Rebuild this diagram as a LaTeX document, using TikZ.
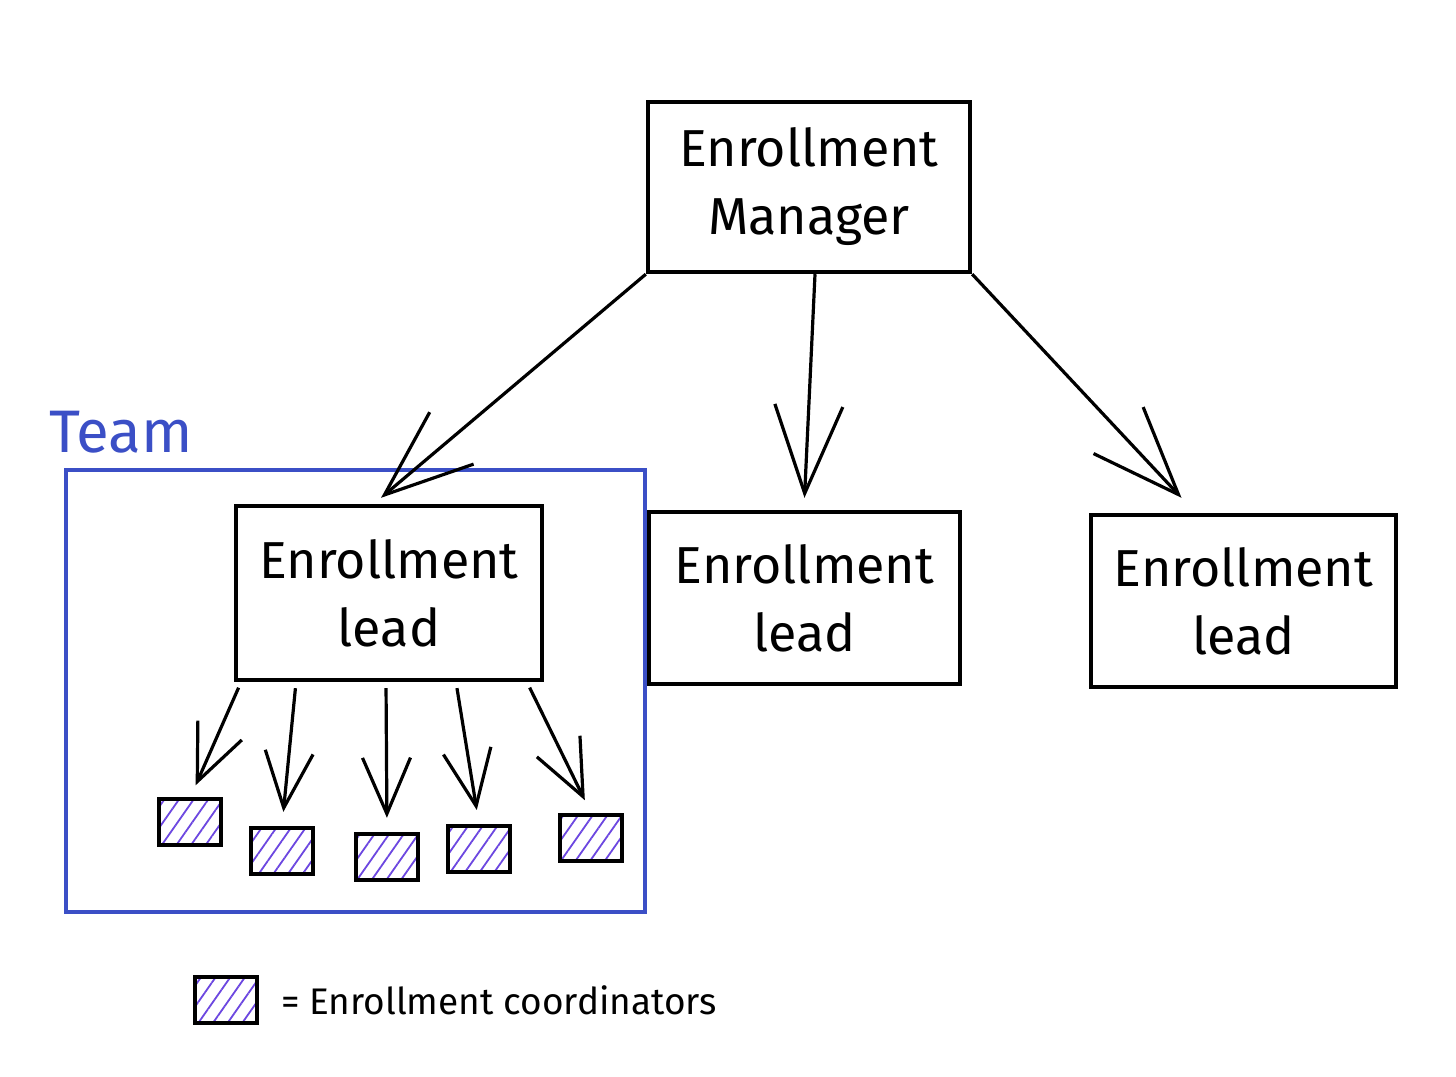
\documentclass[tikz,border=0pt]{standalone}
\usepackage{fontspec}
\setmainfont{Fira Sans}
\usetikzlibrary{calc,arrows.meta,patterns.meta}

\definecolor{teamblue}{HTML}{3B4FC6}
\definecolor{hatch}{HTML}{6C47E0}

\tikzset{
  rolebox/.style={draw, line width=2.2pt, align=center, minimum width=153pt, minimum height=87pt,
    font=\fontsize{26}{34}\selectfont},
  crdbox/.style={draw, line width=2.2pt, minimum width=31pt, minimum height=23pt,
    pattern={Lines[angle=55,distance=6pt,line width=0.9pt]}, pattern color=hatch},
  bigarrow/.style={line width=1.6pt, -{Straight Barb[length=44pt,width=34pt,line width=1.6pt]}},
  subarrow/.style={line width=1.6pt, shorten >=7pt, shorten <=3pt,
    -{Straight Barb[length=28pt,width=24pt,line width=1.6pt]}},
}

\begin{document}
\begin{tikzpicture}[x=0.5pt, y=-0.5pt]
  \useasboundingbox (0,0) rectangle (1456,1076);

  % チーム枠
  \draw[teamblue, line width=1.8pt] (66,470) rectangle (645,912);
  \node[teamblue, anchor=west, font=\fontsize{30}{34}\selectfont] (team) at (42,432) {Team};

  % マネージャーとリード
  \node[rolebox, minimum width=161pt, minimum height=85pt] (mgr) at (809,187) {Enrollment\\Manager};
  \node[rolebox] (lead1) at (389,593) {Enrollment\\lead};
  \node[rolebox, minimum width=155.5pt, minimum height=86pt] (lead2) at (804.5,598) {Enrollment\\lead};
  \node[rolebox, minimum width=152.5pt, minimum height=86pt] (lead3) at (1243.5,601) {Enrollment\\lead};

  % 矢印
  \draw[bigarrow] (mgr.south west) -- ($(lead1.north)+(-8,-6)$);
  \draw[bigarrow] ([xshift=3pt]mgr.south) -- ([yshift=6pt]lead2.north);
  \draw[bigarrow] (mgr.south east) -- ($(lead3.north)+(-62,-15)$);

  % コーディネーター
  \foreach \i/\x/\y in {1/190/822, 2/282/851, 3/387/857, 4/479/849, 5/591/838}
    \node[crdbox] (crd\i) at (\x,\y) {};
  \foreach \i/\dx in {1/-74, 2/-46.5, 3/-1.5, 4/33.5, 5/69}
    \draw[subarrow] ([xshift=\dx pt]lead1.south) -- (crd\i.north);

  % 凡例
  \node[crdbox] (key) at (226,1000) {};
  \node[anchor=west, font=\fontsize{18.5}{22}\selectfont] (keytext) at (274,1000) {= Enrollment coordinators};
\end{tikzpicture}
\end{document}
